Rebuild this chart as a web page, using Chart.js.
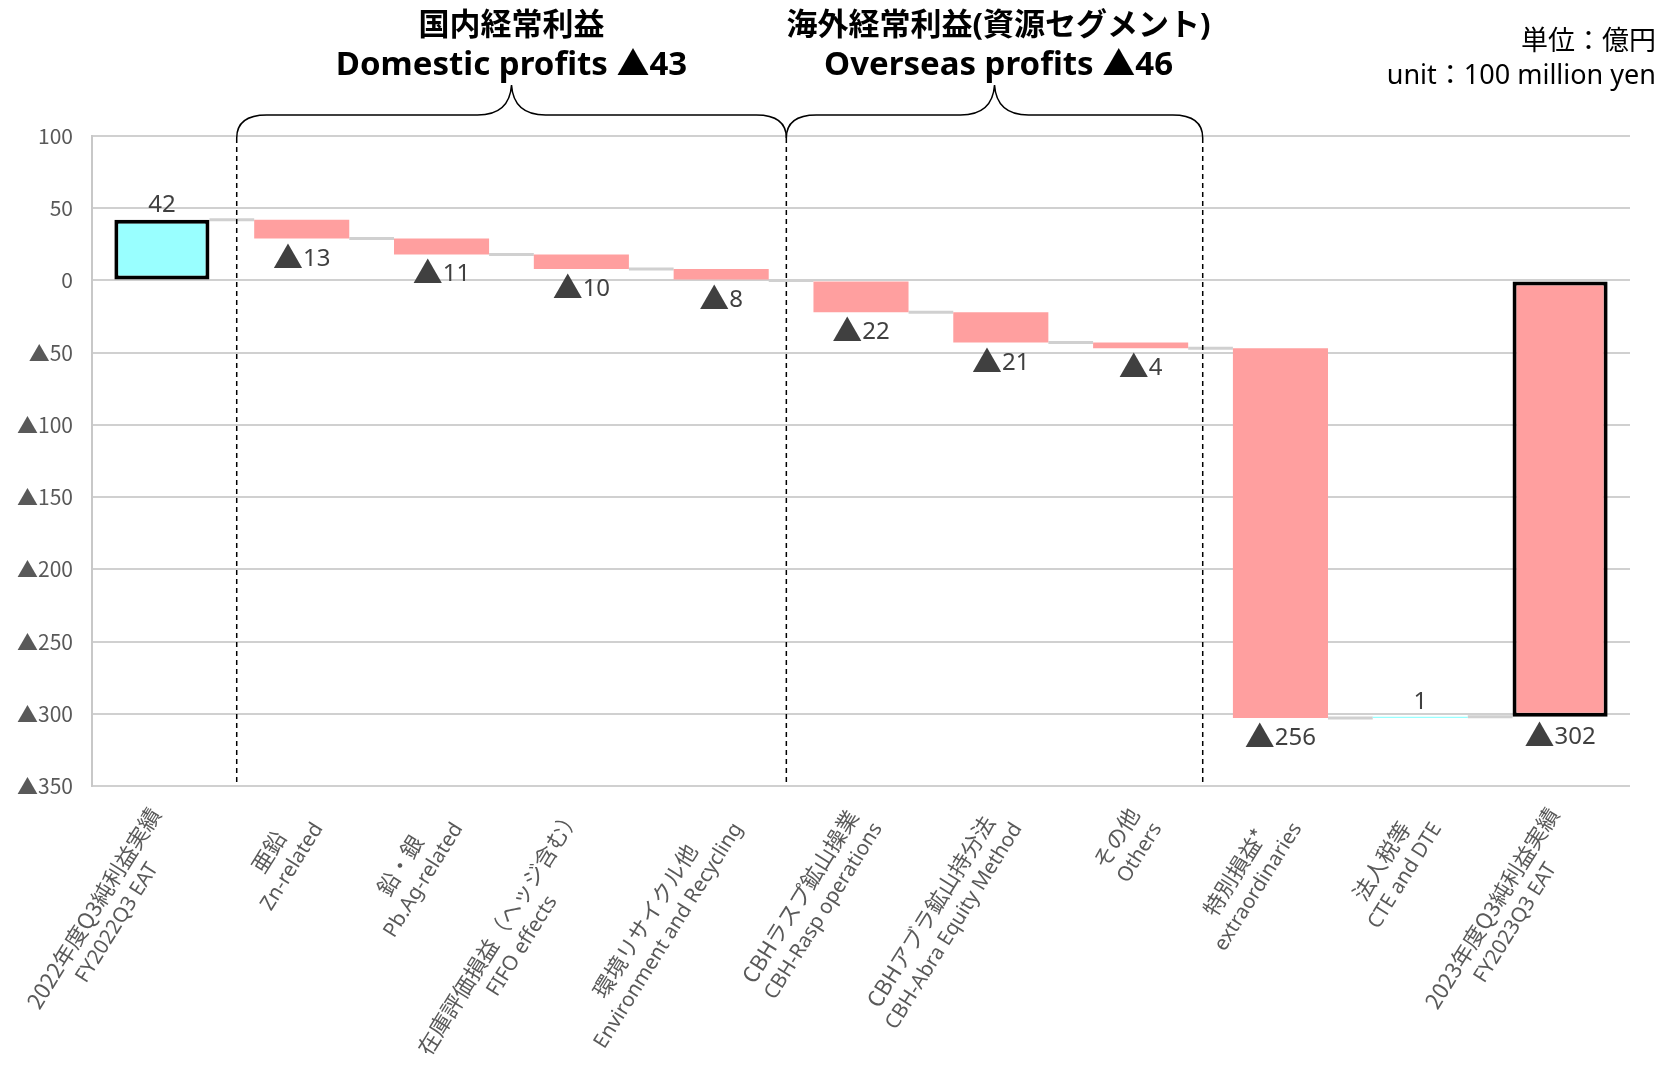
<!DOCTYPE html>
<html><head><meta charset="utf-8">
<script src="https://cdn.jsdelivr.net/npm/chart.js@4.4.1/dist/chart.umd.min.js"></script>
<style>html,body{margin:0;padding:0;background:#fff;}#wrap{width:1659px;height:1070px;position:relative;}</style>
</head><body><div id="wrap"><canvas id="c"></canvas></div>
<script>
// ---- data ----
const labelsJa = ['2022年度Q3純利益実績','亜鉛','鉛・銀','在庫評価損益（ヘッジ含む）','環境リサイクル他','CBHラスプ鉱山操業','CBHアブラ鉱山持分法','その他','特別損益*','法人税等','2023年度Q3純利益実績'];
const labelsEn = ['FY2022Q3 EAT','Zn-related','Pb.Ag-related','FIFO effects','Environment and Recycling','CBH-Rasp operations','CBH-Abra Equity Method','Others','extraordinaries','CTE and DTE','FY2023Q3 EAT'];
const deltas = [42,-13,-11,-10,-8,-22,-21,-4,-256,1,-302];
const isTotal = [true,false,false,false,false,false,false,false,false,false,true];
const yMin = -350, yMax = 100, yStep = 50;
const groupTitlesJa = ['国内経常利益','海外経常利益(資源セグメント)'];
const groupTitlesEn = ['Domestic profits ▲43','Overseas profits ▲46'];
const separators = [0.535, 4.466, 7.444];   // category positions of the dashed dividers
const groupSpans = [[0,1],[1,2]];            // brace spans, as separator indices
const unitJa = '単位：億円';
const unitEn = 'unit：100 million yen';

// ---- build floating ranges ----
const ranges = [];
const levels = [];
let run = 0;
deltas.forEach((d,i)=>{
  if(isTotal[i]){ ranges.push([0,d]); run = d; }
  else { ranges.push([run, run+d]); run += d; }
  levels.push(run);
});
const POS = '#99FFFF', NEG = '#FF9F9F';
const FONT = '"Noto Sans", "Noto Sans CJK JP", sans-serif';
const FONTJ = '"Noto Sans CJK JP", "Noto Sans", sans-serif';
const fmt = v => v < 0 ? '▲' + (-v) : String(v);

function drawNeg(ctx, v, cx, baseY){
  const tri = '▲', num = String(-v);
  ctx.font = '30px ' + FONTJ; const wt = ctx.measureText(tri).width;
  ctx.font = '24px ' + FONT; const wn = ctx.measureText(num).width;
  const x0 = cx - (wt + wn)/2;
  ctx.textAlign = 'left'; ctx.textBaseline = 'alphabetic';
  ctx.font = '30px ' + FONTJ; ctx.fillText(tri, x0, baseY + 2);
  ctx.font = '24px ' + FONT; ctx.fillText(num, x0 + wt, baseY);
}

const deco = {
  id:'deco',
  beforeDatasetsDraw(chart){
    const ctx = chart.ctx, ys = chart.scales.y;
    const meta = chart.getDatasetMeta(0);
    ctx.save();
    ctx.strokeStyle = '#D0D0D0'; ctx.lineWidth = 3;
    for(let i=0;i<meta.data.length-1;i++){
      const a = meta.data[i], b = meta.data[i+1];
      const y = ys.getPixelForValue(levels[i]);
      ctx.beginPath();
      ctx.moveTo(a.x + a.width/2, y);
      ctx.lineTo(b.x - b.width/2, y);
      ctx.stroke();
    }
    ctx.restore();
  },
  afterDatasetsDraw(chart){
    const ctx = chart.ctx, xs = chart.scales.x, ys = chart.scales.y, ca = chart.chartArea;
    const meta = chart.getDatasetMeta(0);
    ctx.save();
    // data labels
    ctx.fillStyle = '#404040';
    meta.data.forEach((el,i)=>{
      const d = deltas[i];
      const r = ranges[i];
      if(d < 0){
        drawNeg(ctx, d, el.x, ys.getPixelForValue(Math.min(r[0],r[1])) + 27);
      } else {
        ctx.font = '24px ' + FONT; ctx.textAlign = 'center'; ctx.textBaseline = 'bottom';
        ctx.fillText(fmt(d), el.x, ys.getPixelForValue(Math.max(r[0],r[1])) - 3);
      }
    });
    // dashed separators and braces
    const yb = ca.top + 2, yh = 115, yt = 85;
    ctx.strokeStyle = '#000'; ctx.lineWidth = 1.5; ctx.setLineDash([5,4]);
    separators.forEach(s=>{
      const x = xs.getPixelForValue(s);
      ctx.beginPath(); ctx.moveTo(x, yb); ctx.lineTo(x, ca.bottom); ctx.stroke();
    });
    ctx.setLineDash([]);
    groupSpans.forEach((g,k)=>{
      const x0 = xs.getPixelForValue(separators[g[0]]), x1 = xs.getPixelForValue(separators[g[1]]);
      const xm = (x0+x1)/2, r = 30, r2 = 34;
      ctx.beginPath();
      ctx.moveTo(x0, yb);
      ctx.quadraticCurveTo(x0, yh, x0 + r, yh);
      ctx.lineTo(xm - r2, yh);
      ctx.quadraticCurveTo(xm - 2, yh, xm, yt);
      ctx.quadraticCurveTo(xm + 2, yh, xm + r2, yh);
      ctx.lineTo(x1 - r, yh);
      ctx.quadraticCurveTo(x1, yh, x1, yb);
      ctx.stroke();
      ctx.fillStyle = '#000'; ctx.textAlign = 'center'; ctx.textBaseline = 'middle';
      ctx.font = 'bold 31px ' + FONT;
      ctx.fillText(groupTitlesJa[k], xm + (k ? 4 : 0), 26);
      ctx.font = 'bold 33px ' + FONT;
      ctx.fillText(groupTitlesEn[k], xm + (k ? 4 : 0), 66);
    });
    // unit
    ctx.font = '27px ' + FONT; ctx.textAlign = 'right'; ctx.textBaseline = 'middle'; ctx.fillStyle = '#000';
    ctx.fillText(unitJa, 1656, 42);
    ctx.fillText(unitEn, 1656, 76);
    // x labels
    ctx.fillStyle = '#595959'; ctx.textBaseline = 'middle'; ctx.textAlign = 'center';
    const ang = -58 * Math.PI / 180;
    const fJ = '22px ' + FONTJ, fE = '20.5px ' + FONT;
    labelsJa.forEach((ja,i)=>{
      const cx = xs.getPixelForValue(i);
      ctx.font = fJ; const w1 = ctx.measureText(ja).width;
      ctx.font = fE; const w2 = ctx.measureText(labelsEn[i]).width;
      const W = Math.max(w1,w2);
      ctx.save();
      ctx.translate(cx - 7, 810);
      ctx.rotate(ang);
      ctx.font = fJ; ctx.fillText(ja, -W/2, 0);
      ctx.font = fE; ctx.fillText(labelsEn[i], -W/2, 28);
      ctx.restore();
    });
    ctx.restore();
  }
};

new Chart(document.getElementById('c'), {
  type:'bar',
  data:{
    labels: labelsEn,
    datasets:[{
      data: ranges,
      backgroundColor: deltas.map(d => d >= 0 ? POS : NEG),
      borderColor: isTotal.map(t => t ? '#000' : 'rgba(0,0,0,0)'),
      borderWidth: isTotal.map(t => t ? 4 : 0),
      borderSkipped: false,
      barPercentage: 0.68,
      categoryPercentage: 1.0
    }]
  },
  options:{
    responsive:true, maintainAspectRatio:false, animation:false,
    layout:{padding:{left:0, top:136, right:29, bottom:284}},
    plugins:{legend:{display:false}, tooltip:{enabled:false}},
    scales:{
      x:{
        ticks:{display:false},
        grid:{display:false},
        border:{display:false},
        afterFit: s => { s.height = 0; }
      },
      y:{
        min:yMin, max:yMax,
        ticks:{stepSize:yStep, padding:19, color:'#595959', font:{size:21, family:FONTJ}, callback: v => fmt(v)},
        grid:{color:'#D0D0D0', lineWidth:2, drawTicks:false, tickLength:0},
        border:{display:true, color:'#C8C8C8', width:2},
        afterFit: s => { s.width = 92; }
      }
    }
  },
  plugins:[deco]
});
</script></body></html>
